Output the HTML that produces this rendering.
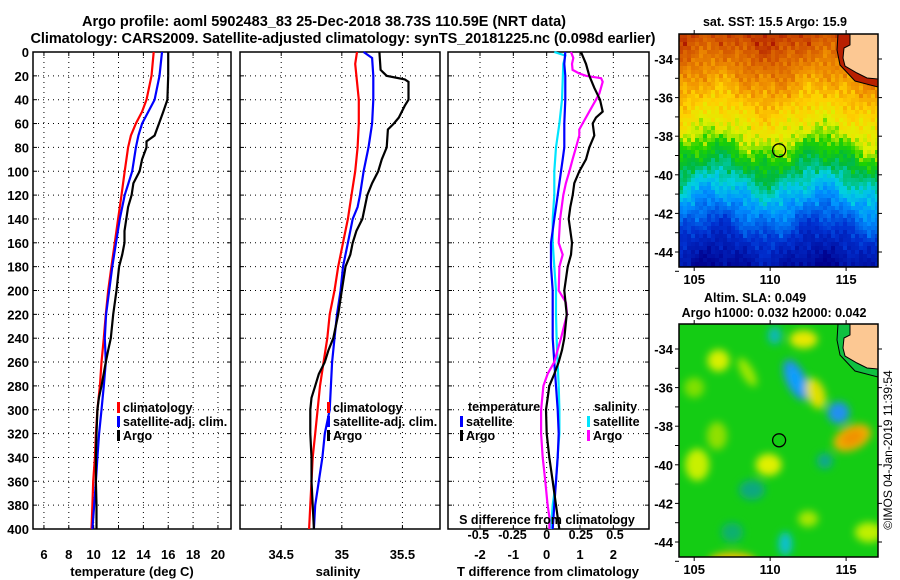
<!DOCTYPE html>
<html><head><meta charset="utf-8">
<style>
html,body{margin:0;padding:0;background:#fff;}
svg{display:block;font-family:"Liberation Sans",Arial,sans-serif;font-weight:bold;}
</style></head>
<body>
<svg id="fig" width="900" height="580" viewBox="0 0 900 580" xmlns="http://www.w3.org/2000/svg">
<defs>
<filter id="blur6" x="-50%" y="-50%" width="200%" height="200%"><feGaussianBlur stdDeviation="4"/></filter>
<clipPath id="clipM1"><rect x="679" y="34" width="199" height="233"/></clipPath>
<clipPath id="clipM2"><rect x="679" y="324" width="199" height="233"/></clipPath>
</defs>
<text x="324" y="26" font-size="14.5" text-anchor="middle" textLength="484">Argo profile: aoml 5902483_83 25-Dec-2018 38.73S 110.59E (NRT data)</text>
<text x="343" y="43" font-size="14.5" text-anchor="middle" textLength="625">Climatology: CARS2009. Satellite-adjusted climatology: synTS_20181225.nc (0.098d earlier)</text>
<g id="g1"></g>
<g id="g2"></g>
<g id="g3"></g>
<g id="m1"></g>
<g id="m2"></g>
<text transform="translate(892,450) rotate(-90)" font-size="12" font-weight="normal" text-anchor="middle">©IMOS 04-Jan-2019 11:39:54</text>
</svg>
<script>
// ---- data ----
const depthTicks=[0,20,40,60,80,100,120,140,160,180,200,220,240,260,280,300,320,340,360,380,400];
const tempTicks=[6,8,10,12,14,16,18,20];
const salTicks=[34.5,35,35.5];
const tdTicks=[-2,-1,0,1,2];
const sdTicks=[-0.5,-0.25,0,0.25,0.5];
const tClimDepth=[0,20,40,50,60,70,80,100,120,140,160,180,200,220,240,260,280,300,320,340,360,380,400];
const tClim=[14.83,14.65,14.25,13.9,13.4,13.0,12.77,12.5,12.24,11.97,11.7,11.43,11.17,10.98,10.82,10.63,10.5,10.3,10.18,10.1,9.96,9.9,9.83];
const tSatDepth=[0,20,40,60,70,80,100,120,140,160,180,200,220,240,260,280,300,320,340,360,380,400];
const tSat=[15.5,15.3,14.9,13.9,13.6,13.4,13.1,12.5,12.1,11.8,11.5,11.25,11.0,10.9,10.98,10.82,10.63,10.44,10.3,10.18,10.04,9.9];
const tArgoDepth=[0,20,40,50,60,70,75,80,90,100,110,120,130,150,160,170,180,200,220,240,250,260,280,290,300,320,340,360,380,400];
const tArgo=[16.0,16.0,15.93,15.6,15.26,14.9,14.25,14.25,13.9,13.7,13.2,13.05,12.77,12.48,12.48,12.3,12.05,11.84,11.57,11.38,11.17,10.98,10.63,10.42,10.3,10.23,10.18,10.18,10.23,10.23];
const sClimDepth=[0,10,40,60,80,100,120,140,160,180,200,220,240,260,280,300,320,340,360,380,400];
const sClim=[35.125,35.11,35.14,35.14,35.13,35.11,35.08,35.05,35.01,34.97,34.94,34.9,34.88,34.85,34.82,34.8,34.78,34.76,34.75,34.74,34.73];
const sSatDepth=[0,5,20,40,60,80,100,120,130,140,160,180,200,220,240,260,280,300,320,340,360,380,400];
const sSat=[35.18,35.25,35.26,35.26,35.25,35.22,35.18,35.15,35.13,35.09,35.05,35.01,34.99,34.96,34.94,34.92,34.91,34.9,34.86,34.84,34.81,34.78,34.77];
const sArgoDepth=[0,15,20,23,25,40,45,55,60,65,80,90,100,110,120,140,150,160,170,180,200,220,240,250,260,270,280,290,300,320,340,360,380,400];
const sArgo=[35.31,35.32,35.37,35.52,35.55,35.55,35.52,35.47,35.43,35.38,35.37,35.33,35.3,35.25,35.21,35.17,35.12,35.09,35.07,35.03,35.0,34.97,34.93,34.89,34.86,34.81,34.78,34.75,34.74,34.74,34.75,34.75,34.76,34.77];
const dTArgoDepth=[0,10,20,30,40,50,55,60,70,80,90,100,110,120,130,140,160,170,180,200,220,240,250,260,270,280,290,300,320,340,360,380,400];
const dTArgo=[1.03,1.18,1.28,1.43,1.6,1.68,1.48,1.38,1.43,1.28,1.18,0.98,0.83,0.78,0.71,0.66,0.76,0.73,0.63,0.53,0.6,0.53,0.46,0.36,0.23,0.08,0.03,-0.02,0,0.08,0.18,0.28,0.38];
const dTSatDepth=[0,10,20,40,60,80,90,100,120,140,160,180,200,220,240,260,280,300,320,340,360,380,400];
const dTSat=[0.56,0.53,0.56,0.56,0.53,0.53,0.48,0.43,0.33,0.23,0.13,0.13,0.18,0.18,0.18,0.23,0.28,0.33,0.36,0.33,0.28,0.23,0.18];
const dSSatDepth=[0,3,10,40,60,80,100,120,140,160,180,200,220,240,260,280,300,320,340,360,380,400];
const dSSat=[0.056,0.137,0.122,0.112,0.093,0.068,0.056,0.056,0.044,0.044,0.056,0.068,0.068,0.073,0.08,0.088,0.093,0.093,0.08,0.068,0.044,0.032];
const dSArgoDepth=[0,5,10,15,18,20,22,25,35,40,50,60,65,70,80,90,100,110,120,140,160,170,180,200,210,220,240,250,260,270,280,300,320,340,360,380,390,400];
const dSArgo=[0.178,0.195,0.185,0.19,0.239,0.288,0.398,0.41,0.385,0.361,0.312,0.263,0.239,0.239,0.215,0.19,0.166,0.141,0.122,0.098,0.088,0.117,0.093,0.088,0.141,0.149,0.105,0.08,0.056,0.007,-0.024,-0.041,-0.041,-0.029,-0.01,0.007,0.02,0.02];
const latTicks=[-34,-36,-38,-40,-42,-44];
const lonTicks=[105,110,115];
const floatLon=110.59, floatLat=-38.73;

const NS='http://www.w3.org/2000/svg';
function mk(parent,tag,attrs,text){const e=document.createElementNS(NS,tag);for(const k in attrs)e.setAttribute(k,attrs[k]);if(text!==undefined)e.textContent=text;parent.appendChild(e);return e;}
const Y0=52,Y1=529;
const yD=d=>Y0+(d/400)*(Y1-Y0);

function panel(g,x0,x1,xmin,xmax,ticks,fmt,leftLabels){
  const xs=v=>x0+(v-xmin)/(xmax-xmin)*(x1-x0);
  for(const t of ticks){const x=xs(t);
    const gl=mk(g,'line',{x1:x,x2:x,y1:Y0,y2:Y1,stroke:'#000','stroke-width':1,'stroke-dasharray':'1,4'});
    
    const lb=mk(g,'text',{x:x,y:559,'font-size':13,'text-anchor':'middle'},fmt(t));
    
    mk(g,'line',{x1:x,x2:x,y1:Y1,y2:Y1-4,stroke:'#000'});mk(g,'line',{x1:x,x2:x,y1:Y0,y2:Y0+4,stroke:'#000'});
  }
  for(const d of depthTicks){const y=yD(d);
    if(d>0&&d<400){const gl=mk(g,'line',{x1:x0,x2:x1,y1:y,y2:y,stroke:'#000','stroke-width':1,'stroke-dasharray':'1,4'});
    }
    mk(g,'line',{x1:x0,x2:x0+4,y1:y,y2:y,stroke:'#000'});mk(g,'line',{x1:x1,x2:x1-4,y1:y,y2:y,stroke:'#000'});
    if(leftLabels){const lb=mk(g,'text',{x:x0-4,y:y+5,'font-size':13,'text-anchor':'end'},String(d));
      }
  }
  const fr=mk(g,'rect',{x:x0,y:Y0,width:x1-x0,height:Y1-Y0,fill:'none',stroke:'#000','stroke-width':1.5});
  
  return xs;
}
function series(g,xs,vals,depths,color,name,scale){
  scale=scale||1;
  const pts=vals.map((v,i)=>xs(v*scale).toFixed(1)+','+yD(depths[i]).toFixed(1)).join(' ');
  const p=mk(g,'polyline',{points:pts,fill:'none',stroke:color,'stroke-width':2.2});
  
}
function legend(g,x,y,color,label){
  mk(g,'rect',{x:x,y:y-10,width:3,height:11,fill:color});
  const t=mk(g,'text',{x:x+6,y:y,'font-size':12.5},label);
  
}
// panel 1
const g1=document.getElementById('g1');
const xT=panel(g1,33,231,5.12,21.05,tempTicks,String,true);
series(g1,xT,tClim,tClimDepth,'#ff0000','climatology-temp-line');
series(g1,xT,tSat,tSatDepth,'#0000ff','satellite-adj-temp-line');
series(g1,xT,tArgo,tArgoDepth,'#000000','argo-temp-line');
legend(g1,117,412,'#ff0000','climatology');legend(g1,117,426,'#0000ff','satellite-adj. clim.');legend(g1,117,440,'#000','Argo');
let t=mk(g1,'text',{x:132,y:576,'font-size':13,'text-anchor':'middle'},'temperature (deg C)');

// panel 2
const g2=document.getElementById('g2');
const xS=panel(g2,240,440,34.16,35.81,salTicks,String,false);
series(g2,xS,sClim,sClimDepth,'#ff0000','climatology-sal-line');
series(g2,xS,sSat,sSatDepth,'#0000ff','satellite-adj-sal-line');
series(g2,xS,sArgo,sArgoDepth,'#000000','argo-sal-line');
legend(g2,327,412,'#ff0000','climatology');legend(g2,327,426,'#0000ff','satellite-adj. clim.');legend(g2,327,440,'#000','Argo');
t=mk(g2,'text',{x:338,y:576,'font-size':13,'text-anchor':'middle'},'salinity');

// panel 3
const g3=document.getElementById('g3');
const xD=panel(g3,448,649,-2.96,3.07,tdTicks,String,false);
const SF=4.1;
series(g3,xD,dSSat,dSSatDepth,'#00e5ff','salinity-satellite-diff-line',SF);
series(g3,xD,dTSat,dTSatDepth,'#0000ff','temperature-satellite-diff-line');
series(g3,xD,dSArgo,dSArgoDepth,'#ff00ff','salinity-argo-diff-line',SF);
series(g3,xD,dTArgo,dTArgoDepth,'#000000','temperature-argo-diff-line');
t=mk(g3,'text',{x:468,y:411,'font-size':12.5},'temperature');
t=mk(g3,'text',{x:594,y:411,'font-size':12.5},'salinity');
legend(g3,460,426,'#0000ff','satellite');legend(g3,460,440,'#000','Argo');
legend(g3,587,426,'#00e5ff','satellite');legend(g3,587,440,'#ff00ff','Argo');
t=mk(g3,'text',{x:547,y:524,'font-size':12.5,'text-anchor':'middle'},'S difference from climatology');

for(const s of sdTicks){const lb=mk(g3,'text',{x:xD(s*SF),y:539,'font-size':12.5,'text-anchor':'middle'},String(s));
  }
t=mk(g3,'text',{x:548,y:576,'font-size':13,'text-anchor':'middle'},'T difference from climatology');


// ---- maps ----
const MX0=679,MX1=878,LON0=104.0,LON1=117.1;
const lonX=l=>MX0+(l-LON0)/(LON1-LON0)*(MX1-MX0);
function latY(top,l){return top+25+(-34-l)*19.3;}
const stops=[[0,[0,0,140]],[0.15,[0,48,208]],[0.3,[0,144,255]],[0.4,[0,208,224]],[0.5,[0,185,60]],[0.58,[30,210,0]],[0.65,[224,240,0]],[0.72,[255,208,0]],[0.8,[240,144,0]],[0.9,[208,80,0]],[1,[160,0,0]]];
function jet(v){v=Math.max(0,Math.min(1,v));for(let i=1;i<stops.length;i++){if(v<=stops[i][0]){const a=stops[i-1],b=stops[i],f=(v-a[0])/(b[0]-a[0]);return 'rgb('+a[1].map((c,k)=>Math.round(c+(b[1][k]-c)*f)).join(',')+')';}}return 'rgb(160,0,0)';}
const latKnots=[-45,-43,-41,-39.5,-38,-36,-34,-32.5],vKnots=[0.02,0.15,0.35,0.5,0.64,0.74,0.85,0.93];
function sstV(lon,lat){
  const sh=0.5*Math.sin((lon-108)*0.9)+0.35*Math.sin(lon*2.3+1)*Math.cos(lat*1.7)+0.2*Math.sin(lon*5.3)*Math.cos(lat*4.1);
  const L=lat+sh;let v=vKnots[0];
  for(let i=1;i<latKnots.length;i++){if(L<=latKnots[i]){const f=(L-latKnots[i-1])/(latKnots[i]-latKnots[i-1]);v=vKnots[i-1]+f*(vKnots[i]-vKnots[i-1]);break;}if(i==latKnots.length-1)v=vKnots[i];}
  return Math.max(0,v+0.03*Math.sin(lon*13.1+lat*7.7)*Math.cos(lat*11.3)+0.02*Math.sin(lon*29.3)*Math.sin(lat*23.1));
}
function drawMap(gid,top,clip,isSST){
  const g=document.getElementById(gid);
  const inner=mk(g,'g',{'clip-path':'url(#'+clip+')'});
  if(isSST){
    const cs=4;
    for(let x=MX0;x<MX1;x+=cs)for(let y=top;y<top+233;y+=cs){
      const lon=LON0+(x-MX0)/(MX1-MX0)*(LON1-LON0),lat=-34-(y-top-25)/19.3;
      mk(inner,'rect',{x:x,y:y,width:cs,height:cs,fill:jet(sstV(lon,lat))});
    }
  } else {
    mk(inner,'rect',{x:MX0,y:top,width:199,height:233,fill:'#14cc14'});
    const blobs=[[111.7,-35.6,10,22,'#2090e8',-25],[111.7,-35.6,6,14,'#10a0ff',-25],[114.5,-37.3,11,11,'#2090f0',0],[115.4,-38.6,20,12,'#f0b000',-25],[115.4,-38.6,12,7,'#f09000',-25],[112.2,-33.5,14,9,'#e8e800',0],[106.6,-34.6,11,11,'#d8f000',0],[113,-36.3,9,16,'#e0e000',-20],[109.9,-40,13,11,'#e0f000',0],[108.8,-41.3,13,10,'#10a880',0],[107.5,-43.5,11,10,'#10b070',0],[111,-44.1,7,12,'#10c0d0',0],[107.5,-45,24,9,'#f0c000',0],[105.2,-40,12,16,'#c8f000',0],[110.3,-33.3,7,9,'#10b8b8',0],[113.6,-39.8,8,8,'#10a890',0],[116.5,-43.5,14,10,'#c0f000',0],[108.5,-35.2,6,16,'#a0e800',-30],[106.5,-38.5,10,14,'#90e000',0],[112.5,-42.8,10,8,'#a8e800',0],[105,-36,10,10,'#80e000',0]];
    const bg=mk(inner,'g',{filter:'url(#blur6)'});
    for(const b of blobs){mk(bg,'ellipse',{cx:lonX(b[0]),cy:latY(top,b[1]),rx:b[2],ry:b[3],fill:b[4],transform:'rotate('+b[5]+' '+lonX(b[0])+' '+latY(top,b[1])+')'});}
  }
  const o=top-34;
  const band='838,'+(34+o)+' 837,'+(50+o)+' 840,'+(65+o)+' 855,'+(81+o)+' 878,'+(87+o)+' 878,'+(34+o);
  mk(inner,'polygon',{points:band,fill:isSST?'#b82000':'#10c040',stroke:'#000','stroke-width':1});
  const land='850,'+(34+o)+' 878,'+(34+o)+' 878,'+(79+o)+' 867,'+(78+o)+' 857,'+(73+o)+' 845,'+(66+o)+' 843,'+(58+o)+' 844,'+(48+o)+' 850,'+(45+o);
  const ld=mk(inner,'polygon',{points:land,fill:'#fcc893',stroke:'#000','stroke-width':1});
  
  const c=mk(g,'circle',{cx:lonX(floatLon),cy:latY(top,floatLat),r:6.5,fill:'none',stroke:'#000','stroke-width':1.3});
  
  const fr=mk(g,'rect',{x:MX0,y:top,width:199,height:233,fill:'none',stroke:'#000','stroke-width':1.5});
  
  for(const l of latTicks){const y=latY(top,l);
    mk(g,'line',{x1:MX0-4,x2:MX0,y1:y,y2:y,stroke:'#000'});mk(g,'line',{x1:MX1,x2:MX1+4,y1:y,y2:y,stroke:'#000'});
    mk(g,'line',{x1:MX0-4,x2:MX0,y1:y+19.3,y2:y+19.3,stroke:'#000'});
    const lb=mk(g,'text',{x:MX0-6,y:y+5,'font-size':13,'text-anchor':'end'},String(l));
    }
  for(const l of lonTicks){const x=lonX(l);
    mk(g,'line',{x1:x,x2:x,y1:top+233,y2:top+237,stroke:'#000'});mk(g,'line',{x1:x,x2:x,y1:top-4,y2:top,stroke:'#000'});
    const lb=mk(g,'text',{x:x,y:top+250,'font-size':13,'text-anchor':'middle'},String(l));
    }
}
drawMap('m1',34,'clipM1',true);
drawMap('m2',324,'clipM2',false);
const m1=document.getElementById('m1'),m2=document.getElementById('m2');
t=mk(m1,'text',{x:775,y:26,'font-size':12.5,'text-anchor':'middle'},'sat. SST: 15.5 Argo: 15.9');

t=mk(m2,'text',{x:755,y:302,'font-size':12.5,'text-anchor':'middle'},'Altim. SLA: 0.049');

t=mk(m2,'text',{x:774,y:317,'font-size':12.5,'text-anchor':'middle'},'Argo h1000: 0.032 h2000: 0.042');

</script>
</body></html>
